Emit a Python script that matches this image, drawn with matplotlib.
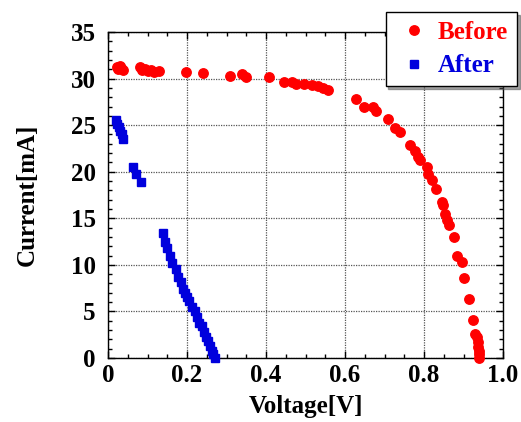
import matplotlib.pyplot as plt
import numpy as np
from matplotlib.ticker import MultipleLocator

# I-V data
before_v = [0.022, 0.026, 0.030, 0.034, 0.038, 0.080, 0.086, 0.093, 0.100, 0.108, 0.116, 0.128,
            0.197, 0.240, 0.310, 0.340, 0.350, 0.408, 0.445, 0.467, 0.476, 0.496, 0.517, 0.532,
            0.544, 0.558, 0.627, 0.649, 0.672, 0.678, 0.710, 0.727, 0.739, 0.765, 0.777, 0.786,
            0.790, 0.807, 0.811, 0.819, 0.830, 0.845, 0.847, 0.853, 0.857, 0.862, 0.877, 0.883,
            0.895, 0.900, 0.913, 0.924, 0.929, 0.934, 0.936, 0.937, 0.938, 0.939, 0.940]
before_i = [31.2, 31.0, 31.3, 31.1, 30.9, 31.2, 30.9, 31.0, 30.8, 30.9, 30.7, 30.8,
            30.75, 30.6, 30.3, 30.5, 30.2, 30.2, 29.6, 29.6, 29.4, 29.4, 29.3, 29.2,
            29.0, 28.8, 27.8, 26.9, 27.0, 26.5, 25.7, 24.7, 24.3, 22.9, 22.2, 21.6,
            21.3, 20.5, 19.8, 19.1, 18.1, 16.8, 16.4, 15.5, 14.8, 14.3, 13.0, 10.9,
            10.3, 8.6, 6.3, 4.1, 2.6, 2.2, 1.7, 1.2, 0.8, 0.4, 0.0]

after_v = [0.019, 0.023, 0.027, 0.031, 0.035, 0.039, 0.064, 0.072, 0.084,
           0.140, 0.144, 0.150, 0.156, 0.163, 0.172, 0.178, 0.186, 0.191, 0.195, 0.200,
           0.205, 0.212, 0.219, 0.225, 0.231, 0.237, 0.243, 0.248, 0.253, 0.258, 0.263,
           0.267, 0.271]
after_i = [25.5, 25.1, 24.8, 24.4, 24.0, 23.5, 20.5, 19.8, 18.9,
           13.4, 12.5, 11.8, 11.0, 10.2, 9.6, 8.7, 8.2, 7.4, 7.0, 6.6,
           6.1, 5.5, 5.0, 4.4, 3.8, 3.4, 2.8, 2.3, 1.8, 1.3, 0.8,
           0.4, 0.0]

xtick_labels = ['0', '0.2', '0.4', '0.6', '0.8', '1.0']

plt.rcParams['font.family'] = ['Liberation Serif', 'DejaVu Serif']
plt.rcParams['font.weight'] = 'bold'

fig = plt.figure(figsize=(5.21, 4.22), dpi=100)
ax = fig.add_axes([0.2073, 0.1517, 0.7582, 0.7725])

ax.plot(before_v, before_i, 'o', color='#ff0000', ms=6.8, mec='#ff0000', label='Before', clip_on=False, zorder=3)
ax.plot(after_v, after_i, 's', color='#0000dd', ms=6, mec='#0000dd', label='After', clip_on=False, zorder=3)

ax.set_xlim(0, 1.0)
ax.set_ylim(0, 35)
ax.set_xticks(np.arange(0, 1.01, 0.2))
ax.set_xticklabels(xtick_labels)
ax.xaxis.set_minor_locator(MultipleLocator(0.05))
ax.yaxis.set_major_locator(MultipleLocator(5))
ax.yaxis.set_minor_locator(MultipleLocator(1))

ax.tick_params(which='both', direction='in', top=True, right=True, width=1)
ax.tick_params(which='major', length=5, labelsize=18)
ax.tick_params(axis='x', which='major', pad=4)
ax.tick_params(axis='y', which='major', pad=9)
ax.tick_params(which='minor', length=3)
for lab in ax.get_xticklabels() + ax.get_yticklabels():
    lab.set_fontweight('bold')
ax.grid(True, which='major', linestyle=(0, (1, 1)), color='#555555', linewidth=0.9)
for sp in ax.spines.values():
    sp.set_linewidth(1.0)

ax.set_xlabel('Voltage[V]', fontsize=18, fontweight='bold', labelpad=6)
ax.set_ylabel('Current[mA]', fontsize=18, fontweight='bold', labelpad=23)

leg = fig.legend(loc='upper right', bbox_to_anchor=(517 / 521, 1 - 12 / 422), borderaxespad=0,
                 fancybox=False, shadow=True, framealpha=1, edgecolor='black',
                 prop={'size': 18, 'weight': 'bold'}, handletextpad=0.15, borderpad=0.35,
                 labelspacing=0.42, handlelength=1.6, markerscale=1.0)
leg.get_frame().set_linewidth(1.0)
for txt, col in zip(leg.get_texts(), ['#ff0000', '#0000dd']):
    txt.set_color(col)

fig.savefig('out.png', dpi=100)
